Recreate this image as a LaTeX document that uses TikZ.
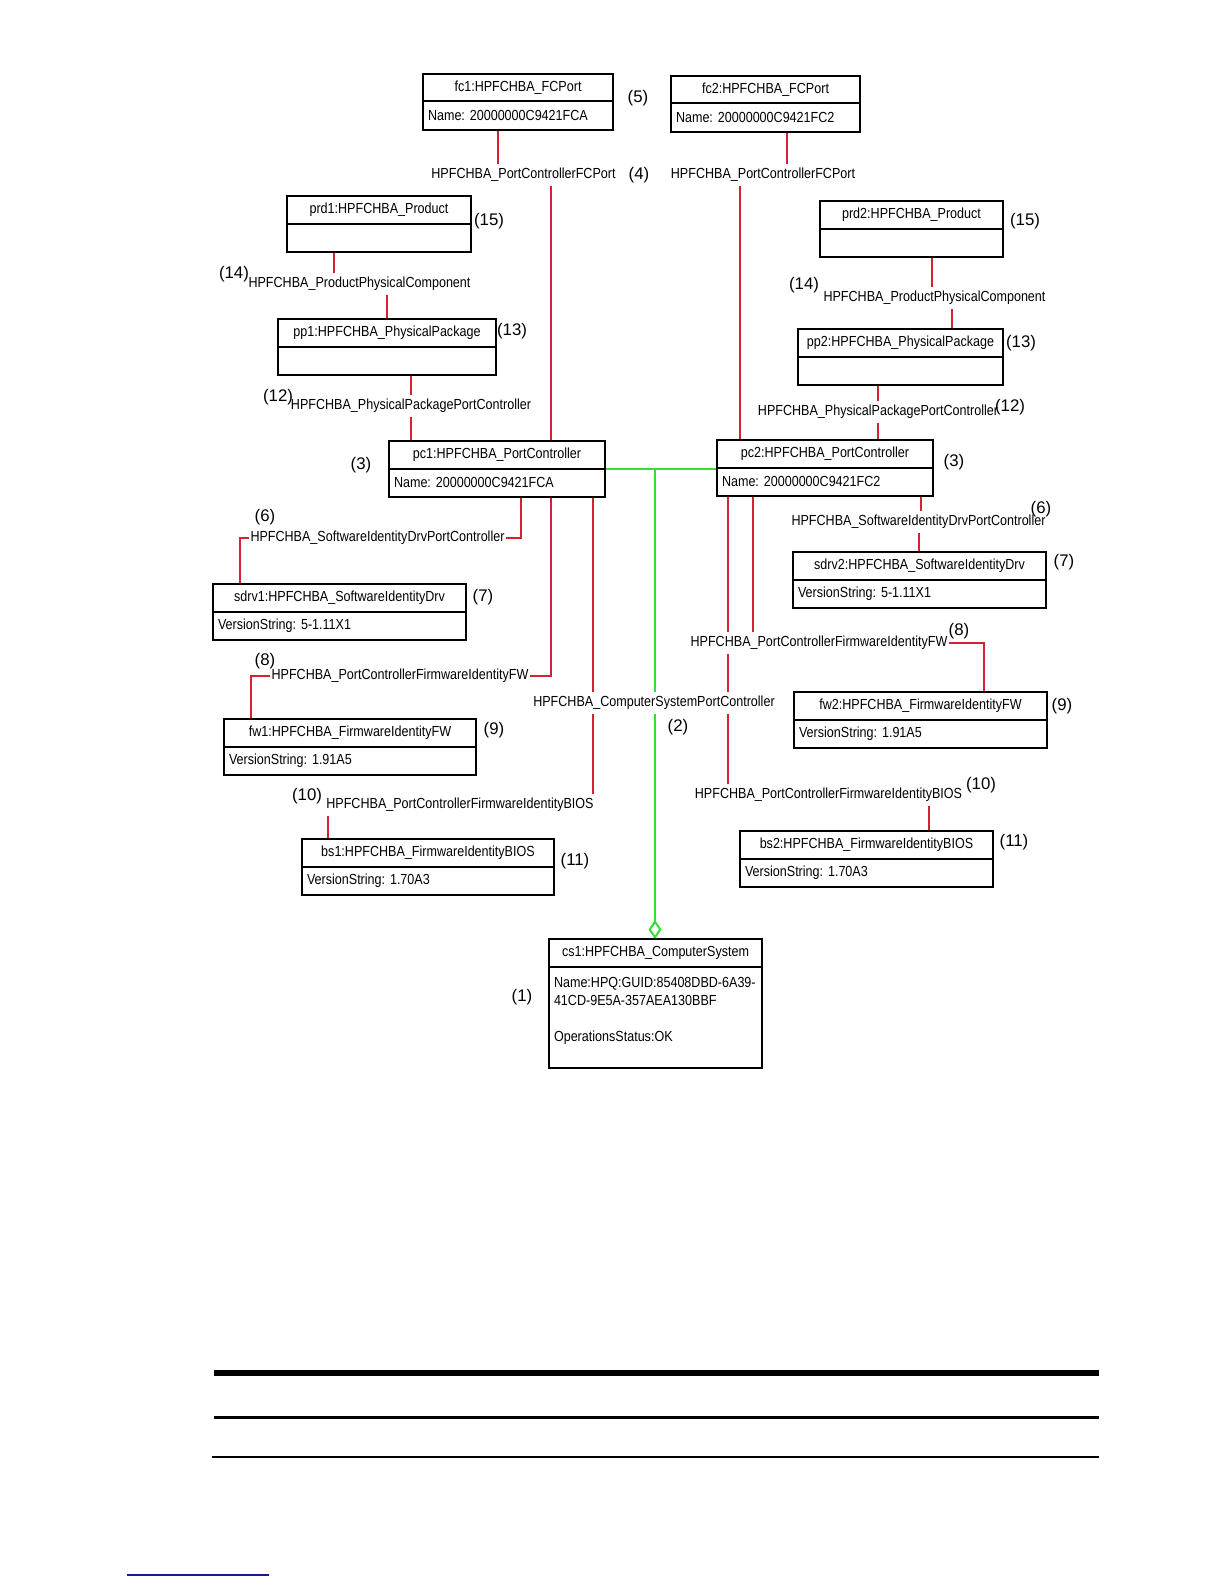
\documentclass[tikz,border=0pt]{standalone}
\usepackage{fontspec}
\usepackage{tikz}
\usetikzlibrary{arrows.meta,positioning,backgrounds}
\newfontfamily\umlfont[FakeStretch=0.86]{Liberation Sans}
\newfontfamily\numfont{Liberation Sans}
\definecolor{rojo}{HTML}{D42232}
\definecolor{lima}{HTML}{33E033}
\definecolor{marino}{HTML}{1A1A8C}
\frenchspacing
\tikzset{
  caja/.style={draw,line width=1pt,outer sep=0pt,inner xsep=2.5pt,inner ysep=0pt,font=\umlfont\fontsize{7.3}{9}\selectfont},
  cabeza/.style={caja,minimum height=13.75pt,align=center,anchor=north},
  atrib/.style={caja,minimum height=14.25pt,align=left},
  rol/.style={fill=white,inner xsep=0.5pt,inner ysep=2pt,font=\umlfont\fontsize{7.3}{9}\selectfont},
  num/.style={inner sep=0pt,font=\numfont\fontsize{8.4}{10}\selectfont},
  enlace/.style={draw=rojo,line width=1pt},
  agrega/.style={draw=lima,line width=1pt}
}

\begin{document}
\frenchspacing
\begin{tikzpicture}[x=0.5pt,y=-0.5pt]
\path[use as bounding box] (0,0) rectangle (1224,1584);

% clases, columna izquierda
\node[cabeza,text width=90pt] (fc1) at (518,74) {fc1:HPFCHBA\_FCPort};
\node[atrib,text width=90pt,below=0pt of fc1] (fc1v) {Name: 20000000C9421FCA};
\node[cabeza,text width=87pt] (prd1) at (379,196) {prd1:HPFCHBA\_Product};
\node[atrib,text width=87pt,below=0pt of prd1] (prd1v) {};
\node[cabeza,text width=104pt] (pp1) at (387,319) {pp1:HPFCHBA\_PhysicalPackage};
\node[atrib,text width=104pt,below=0pt of pp1] (pp1v) {};
\node[cabeza,text width=103pt] (pc1) at (497,441) {pc1:HPFCHBA\_PortController};
\node[atrib,text width=103pt,below=0pt of pc1] (pc1v) {Name: 20000000C9421FCA};
\node[cabeza,text width=121.5pt] (sdrv1) at (339.5,584) {sdrv1:HPFCHBA\_SoftwareIdentityDrv};
\node[atrib,text width=121.5pt,below=0pt of sdrv1] (sdrv1v) {VersionString: 5-1.11X1};
\node[cabeza,text width=121pt] (fw1) at (350,719) {fw1:HPFCHBA\_FirmwareIdentityFW};
\node[atrib,text width=121pt,below=0pt of fw1] (fw1v) {VersionString: 1.91A5};
\node[cabeza,text width=121pt] (bs1) at (428,839) {bs1:HPFCHBA\_FirmwareIdentityBIOS};
\node[atrib,text width=121pt,below=0pt of bs1] (bs1v) {VersionString: 1.70A3};

% clases, columna derecha
\node[cabeza,text width=89.5pt] (fc2) at (765.5,76) {fc2:HPFCHBA\_FCPort};
\node[atrib,text width=89.5pt,below=0pt of fc2] (fc2v) {Name: 20000000C9421FC2};
\node[cabeza,text width=86.5pt] (prd2) at (911.5,201) {prd2:HPFCHBA\_Product};
\node[atrib,text width=86.5pt,below=0pt of prd2] (prd2v) {};
\node[cabeza,text width=97.5pt] (pp2) at (900.5,329) {pp2:HPFCHBA\_PhysicalPackage};
\node[atrib,text width=97.5pt,below=0pt of pp2] (pp2v) {};
\node[cabeza,text width=103pt] (pc2) at (825,440) {pc2:HPFCHBA\_PortController};
\node[atrib,text width=103pt,below=0pt of pc2] (pc2v) {Name: 20000000C9421FC2};
\node[cabeza,text width=121.5pt] (sdrv2) at (919.5,552) {sdrv2:HPFCHBA\_SoftwareIdentityDrv};
\node[atrib,text width=121.5pt,below=0pt of sdrv2] (sdrv2v) {VersionString: 5-1.11X1};
\node[cabeza,text width=121.5pt] (fw2) at (920.5,692) {fw2:HPFCHBA\_FirmwareIdentityFW};
\node[atrib,text width=121.5pt,below=0pt of fw2] (fw2v) {VersionString: 1.91A5};
\node[cabeza,text width=121.5pt] (bs2) at (866.5,831) {bs2:HPFCHBA\_FirmwareIdentityBIOS};
\node[atrib,text width=121.5pt,below=0pt of bs2] (bs2v) {VersionString: 1.70A3};

% sistema
\node[cabeza,text width=101.5pt] (cs1) at (655.5,939) {cs1:HPFCHBA\_ComputerSystem};
\node[atrib,text width=101.5pt,minimum height=50.5pt,below=0pt of cs1] (cs1v)
  {\mbox{Name:HPQ:GUID:85408DBD-6A39-}\\\mbox{41CD-9E5A-357AEA130BBF}\\[9pt]OperationsStatus:OK\\[-1pt]\mbox{}};

% asociaciones
\node[rol] (a4l) at (523.5,175) {HPFCHBA\_PortControllerFCPort};
\node[rol] (a4r) at (763,175) {HPFCHBA\_PortControllerFCPort};
\node[rol] (a14l) at (359.5,284) {HPFCHBA\_ProductPhysicalComponent};
\node[rol] (a14r) at (934.5,298) {HPFCHBA\_ProductPhysicalComponent};
\node[rol] (a12l) at (411,406) {HPFCHBA\_PhysicalPackagePortController};
\node[rol] (a12r) at (878,412) {HPFCHBA\_PhysicalPackagePortController};
\node[rol] (a6l) at (377.5,538) {HPFCHBA\_SoftwareIdentityDrvPortController};
\node[rol] (a6r) at (918.5,522) {HPFCHBA\_SoftwareIdentityDrvPortController};
\node[rol] (a8l) at (400,676) {HPFCHBA\_PortControllerFirmwareIdentityFW};
\node[rol] (a8r) at (819,643) {HPFCHBA\_PortControllerFirmwareIdentityFW};
\node[rol] (a10l) at (460,805) {HPFCHBA\_PortControllerFirmwareIdentityBIOS};
\node[rol] (a10r) at (828.5,795) {HPFCHBA\_PortControllerFirmwareIdentityBIOS};
\node[rol] (a2) at (654,703) {HPFCHBA\_ComputerSystemPortController};

% numeros
\node[num] (n1) at (522,997) {(1)};
\node[num] (n2) at (678,727) {(2)};
\node[num] (n3l) at (361,465) {(3)};
\node[num] (n3r) at (954,462) {(3)};
\node[num] (n4) at (639,175) {(4)};
\node[num] (n5) at (638,98) {(5)};
\node[num] (n6l) at (265,517) {(6)};
\node[num] (n6r) at (1041,509) {(6)};
\node[num] (n7l) at (483,597) {(7)};
\node[num] (n7r) at (1064,562) {(7)};
\node[num] (n8l) at (265,661) {(8)};
\node[num] (n8r) at (959,631) {(8)};
\node[num] (n9l) at (494,730) {(9)};
\node[num] (n9r) at (1062,706) {(9)};
\node[num] (n10l) at (307,796) {(10)};
\node[num] (n10r) at (981,785) {(10)};
\node[num] (n11l) at (575,861) {(11)};
\node[num] (n11r) at (1014,842) {(11)};
\node[num] (n12l) at (278,397) {(12)};
\node[num] (n12r) at (1010,407) {(12)};
\node[num] (n13l) at (512,331) {(13)};
\node[num] (n13r) at (1021,343) {(13)};
\node[num] (n14l) at (234,274) {(14)};
\node[num] (n14r) at (804,285) {(14)};
\node[num] (n15l) at (489,221) {(15)};
\node[num] (n15r) at (1025,221) {(15)};

\coordinate (cj) at (655,468);

\begin{pgfonlayer}{background}
\fill[white] (0,0) rectangle (1224,1584);
% lado izquierdo
\draw[enlace] (498,0 |- fc1v.south) -- (498,0 |- a4l.north);
\draw[enlace] (551,0 |- a4l.south) -- (551,0 |- pc1.north);
\draw[enlace] (334,0 |- prd1v.south) -- (334,0 |- a14l.north);
\draw[enlace] (387,0 |- a14l.south) -- (387,0 |- pp1.north);
\draw[enlace] (a12l |- pp1v.south) -- (a12l.north);
\draw[enlace] (a12l.south) -- (a12l |- pc1.north);
\draw[enlace] (521,0 |- pc1v.south) |- (a6l.east);
\draw[enlace] (a6l.west) -| (240,0 |- sdrv1.north);
\draw[enlace] (551,0 |- pc1v.south) |- (a8l.east);
\draw[enlace] (a8l.west) -| (251,0 |- fw1.north);
\draw[enlace] (593,0 |- pc1v.south) -- (593,0 |- a10l.north);
\draw[enlace] (328,0 |- a10l.south) -- (328,0 |- bs1.north);
% lado derecho
\draw[enlace] (787,0 |- fc2v.south) -- (787,0 |- a4r.north);
\draw[enlace] (740,0 |- a4r.south) -- (740,0 |- pc2.north);
\draw[enlace] (932,0 |- prd2v.south) -- (932,0 |- a14r.north);
\draw[enlace] (952,0 |- a14r.south) -- (952,0 |- pp2.north);
\draw[enlace] (a12r |- pp2v.south) -- (a12r.north);
\draw[enlace] (a12r.south) -- (a12r |- pc2.north);
\draw[enlace] (921,0 |- pc2v.south) -- (921,0 |- a6r.north);
\draw[enlace] (919,0 |- a6r.south) -- (919,0 |- sdrv2.north);
\draw[enlace] (753,0 |- pc2v.south) -- (753,0 |- a8r.north);
\draw[enlace] (a8r.east) -| (984,0 |- fw2.north);
\draw[enlace] (728,0 |- pc2v.south) -- (728,0 |- a10r.north);
\draw[enlace] (929,0 |- a10r.south) -- (929,0 |- bs2.north);
% agregacion
\draw[agrega] (pc1.south east) -- (pc1.south east -| pc2.west);
\draw[agrega,-{Diamond[open,length=9.5pt,width=6.5pt]}] (cj) -- (cj |- cs1.north);
\end{pgfonlayer}

% reglas del pie
\draw[line width=3pt] (214,1373) -- (1099,1373);
\draw[line width=1.5pt] (214,1417.5) -- (1099,1417.5);
\draw[line width=0.75pt] (212,1457) -- (1099,1457);
\draw[marino,line width=0.75pt] (127,1575) -- (269,1575);
\end{tikzpicture}
\end{document}
